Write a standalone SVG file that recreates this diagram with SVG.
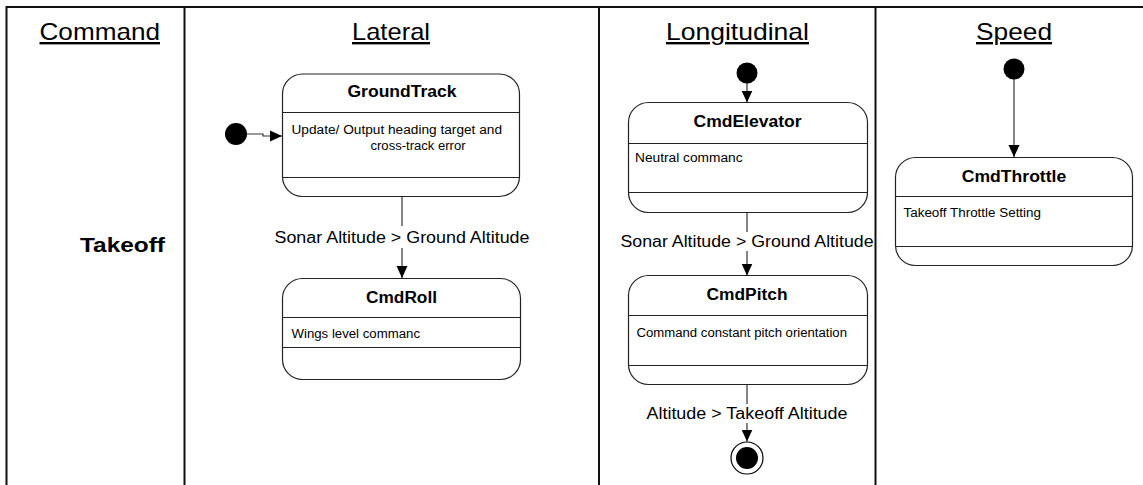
<svg xmlns="http://www.w3.org/2000/svg" width="1143" height="485" viewBox="0 0 1143 485">
<style>
text{font-family:"Liberation Sans",Arial,sans-serif;fill:#000}
.hdr{font-size:24px;text-decoration:underline}
.ttl{font-size:16px;font-weight:bold;text-anchor:middle}
.body{font-size:12px}
.lbl{font-size:16px;text-anchor:middle}
.box{fill:#fff;stroke:#222;stroke-width:1.2}
.div{stroke:#222;stroke-width:1.2}
.frame{stroke:#111;stroke-width:2;fill:none}
.conn{stroke:#333;stroke-width:1.2;fill:none}
.dot{fill:#000}
</style>
<defs>
<marker id="arr" viewBox="0 0 12 12" refX="12" refY="6" markerWidth="12" markerHeight="12" markerUnits="userSpaceOnUse" orient="auto">
<path d="M0,0.5 L12,6 L0,11.5 Z" fill="#000"/>
</marker>
</defs>
<rect width="1143" height="485" fill="#fff"/>
<g id="frame">
<line class="frame" x1="6" y1="7" x2="1143" y2="7"/>
<line class="frame" x1="6.5" y1="6" x2="6.5" y2="485"/>
<line class="frame" x1="184.5" y1="7" x2="184.5" y2="485"/>
<line class="frame" x1="599" y1="7" x2="599" y2="485"/>
<line class="frame" x1="875.5" y1="7" x2="875.5" y2="485"/>
</g>
<g id="headers">
<text class="hdr" x="39.5" y="40" textLength="120.5" lengthAdjust="spacingAndGlyphs">Command</text>
<text class="hdr" x="352" y="40" textLength="78" lengthAdjust="spacingAndGlyphs">Lateral</text>
<text class="hdr" x="666" y="40" textLength="143" lengthAdjust="spacingAndGlyphs">Longitudinal</text>
<text class="hdr" x="976" y="40" textLength="76" lengthAdjust="spacingAndGlyphs">Speed</text>
<text x="80" y="252" font-size="20" font-weight="bold" textLength="85" lengthAdjust="spacingAndGlyphs">Takeoff</text>
</g>
<g id="connectors">
<path class="conn" d="M247,134 H263 V136 H282" marker-end="url(#arr)"/>
<line class="conn" x1="402" y1="197" x2="402" y2="226"/>
<line class="conn" x1="402" y1="248" x2="402" y2="278" marker-end="url(#arr)"/>
<text class="lbl" x="402" y="243" textLength="255" lengthAdjust="spacingAndGlyphs">Sonar Altitude &gt; Ground Altitude</text>
<line class="conn" x1="747" y1="83" x2="747" y2="102.5" marker-end="url(#arr)"/>
<line class="conn" x1="747" y1="212" x2="747" y2="232"/>
<text class="lbl" x="747" y="247" textLength="253" lengthAdjust="spacingAndGlyphs">Sonar Altitude &gt; Ground Altitude</text>
<line class="conn" x1="747" y1="251" x2="747" y2="275.5" marker-end="url(#arr)"/>
<line class="conn" x1="747" y1="384" x2="747" y2="404"/>
<text class="lbl" x="747" y="419" textLength="201" lengthAdjust="spacingAndGlyphs">Altitude &gt; Takeoff Altitude</text>
<line class="conn" x1="747" y1="423" x2="747" y2="441.5" marker-end="url(#arr)"/>
<line class="conn" x1="1014" y1="78" x2="1014" y2="157" marker-end="url(#arr)"/>
</g>
<g id="init-lateral"><circle class="dot" cx="236" cy="134" r="11"/></g>
<g id="init-longitudinal"><circle class="dot" cx="747" cy="73" r="10.5"/></g>
<g id="init-speed"><circle class="dot" cx="1014" cy="69" r="10.5"/></g>
<g id="final-longitudinal">
<circle cx="747" cy="458" r="16" fill="#fff" stroke="#000" stroke-width="1.2"/>
<circle class="dot" cx="747" cy="458" r="11"/>
</g>
<g id="GroundTrack">
<rect class="box" x="282.5" y="74" width="237" height="122.5" rx="20"/>
<line class="div" x1="282.5" y1="112.5" x2="519.5" y2="112.5"/>
<line class="div" x1="282.5" y1="177.5" x2="519.5" y2="177.5"/>
<text class="ttl" x="402" y="97" textLength="109" lengthAdjust="spacingAndGlyphs">GroundTrack</text>
<text class="body" x="291.5" y="134" textLength="210.5" lengthAdjust="spacingAndGlyphs">Update/ Output heading target and</text>
<text class="body" x="370.5" y="150" textLength="95" lengthAdjust="spacingAndGlyphs">cross-track error</text>
</g>
<g id="CmdRoll">
<rect class="box" x="282.5" y="278.5" width="238" height="101" rx="20"/>
<line class="div" x1="282.5" y1="317.5" x2="520.5" y2="317.5"/>
<line class="div" x1="282.5" y1="347.5" x2="520.5" y2="347.5"/>
<text class="ttl" x="401.5" y="302.5" textLength="71" lengthAdjust="spacingAndGlyphs">CmdRoll</text>
<text class="body" x="291.5" y="337.5" textLength="128.5" lengthAdjust="spacingAndGlyphs">Wings level commanc</text>
</g>
<g id="CmdElevator">
<rect class="box" x="628.5" y="102.5" width="239" height="110" rx="20"/>
<line class="div" x1="628.5" y1="143.5" x2="867.5" y2="143.5"/>
<line class="div" x1="628.5" y1="192.5" x2="867.5" y2="192.5"/>
<text class="ttl" x="747.5" y="126.5" textLength="108" lengthAdjust="spacingAndGlyphs">CmdElevator</text>
<text class="body" x="635" y="161.5" textLength="107.5" lengthAdjust="spacingAndGlyphs">Neutral commanc</text>
</g>
<g id="CmdPitch">
<rect class="box" x="628.5" y="275.5" width="239" height="109" rx="20"/>
<line class="div" x1="628.5" y1="315.5" x2="867.5" y2="315.5"/>
<line class="div" x1="628.5" y1="365.5" x2="867.5" y2="365.5"/>
<text class="ttl" x="747" y="300" textLength="81" lengthAdjust="spacingAndGlyphs">CmdPitch</text>
<text class="body" x="636.5" y="336.5" textLength="210.5" lengthAdjust="spacingAndGlyphs">Command constant pitch orientation</text>
</g>
<g id="CmdThrottle">
<rect class="box" x="895.5" y="157.5" width="237" height="108" rx="20"/>
<line class="div" x1="895.5" y1="196.5" x2="1132.5" y2="196.5"/>
<line class="div" x1="895.5" y1="246.5" x2="1132.5" y2="246.5"/>
<text class="ttl" x="1014" y="181.5" textLength="104.5" lengthAdjust="spacingAndGlyphs">CmdThrottle</text>
<text class="body" x="903.5" y="216.5" textLength="137.5" lengthAdjust="spacingAndGlyphs">Takeoff Throttle Setting</text>
</g>
</svg>
